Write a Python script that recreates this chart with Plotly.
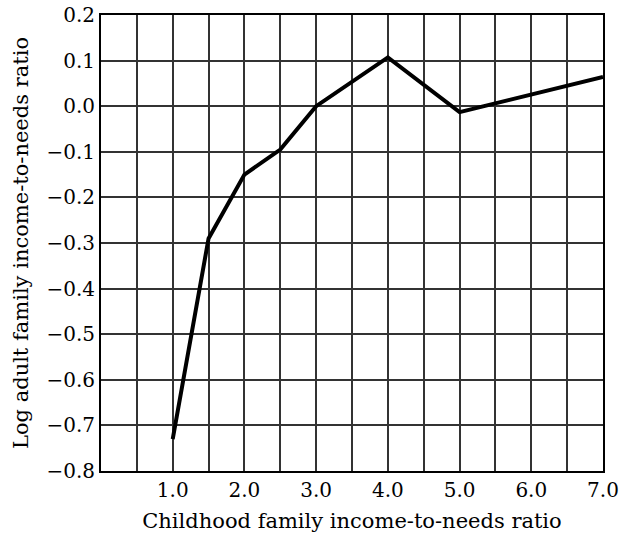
import plotly.graph_objects as go

# childhood income-to-needs ratio vs log adult income-to-needs ratio
child_ratio = [1.0, 1.5, 2.0, 2.5, 3.0, 4.0, 5.0, 6.0, 7.0]
log_adult_ratio = [-0.73, -0.29, -0.15, -0.095, 0.0, 0.107, -0.013, 0.025, 0.064]

x_ticks = [i * 0.5 for i in range(15)]
x_labels = ["%.1f" % v if v >= 1 and v == int(v) else "" for v in x_ticks]
y_ticks = [round(-0.8 + 0.1 * i, 1) for i in range(11)]
y_labels = [("\u2212%.1f" % abs(v)) if v < 0 else "%.1f" % v for v in y_ticks]

serif = "DejaVu Serif, serif"

fig = go.Figure()
fig.add_trace(go.Scatter(x=child_ratio, y=log_adult_ratio, mode="lines",
                         line=dict(color="black", width=4)))

fig.update_layout(
    width=620, height=536,
    margin=dict(l=101, r=17, t=15, b=65),
    paper_bgcolor="white", plot_bgcolor="white",
    showlegend=False,
    font=dict(family=serif, color="#000", size=20),
)
fig.update_xaxes(range=[0, 7], tickvals=x_ticks, ticktext=x_labels,
                 showgrid=True, gridcolor="#333", gridwidth=1.5,
                 zeroline=False, showline=True, linecolor="black", linewidth=2,
                 mirror=True, ticks="", automargin=False,
                 tickfont=dict(family=serif, size=20),
                 title=dict(text="Childhood family income-to-needs ratio",
                            font=dict(family=serif, size=21), standoff=12))
fig.update_yaxes(range=[-0.8, 0.2], tickvals=y_ticks, ticktext=y_labels,
                 showgrid=True, gridcolor="#333", gridwidth=1.5,
                 zeroline=False, showline=True, linecolor="black", linewidth=2,
                 mirror=True, ticks="", automargin=False,
                 tickfont=dict(family=serif, size=20),
                 title=dict(text="Log adult family income-to-needs ratio",
                            font=dict(family=serif, size=21), standoff=12))

# drop the default body margin so the figure fills the window without scrollbars
fig.write_html("out.html", config={"displayModeBar": False},
               post_script="document.body.style.margin='0';"
                           "document.body.style.overflow='hidden';")
